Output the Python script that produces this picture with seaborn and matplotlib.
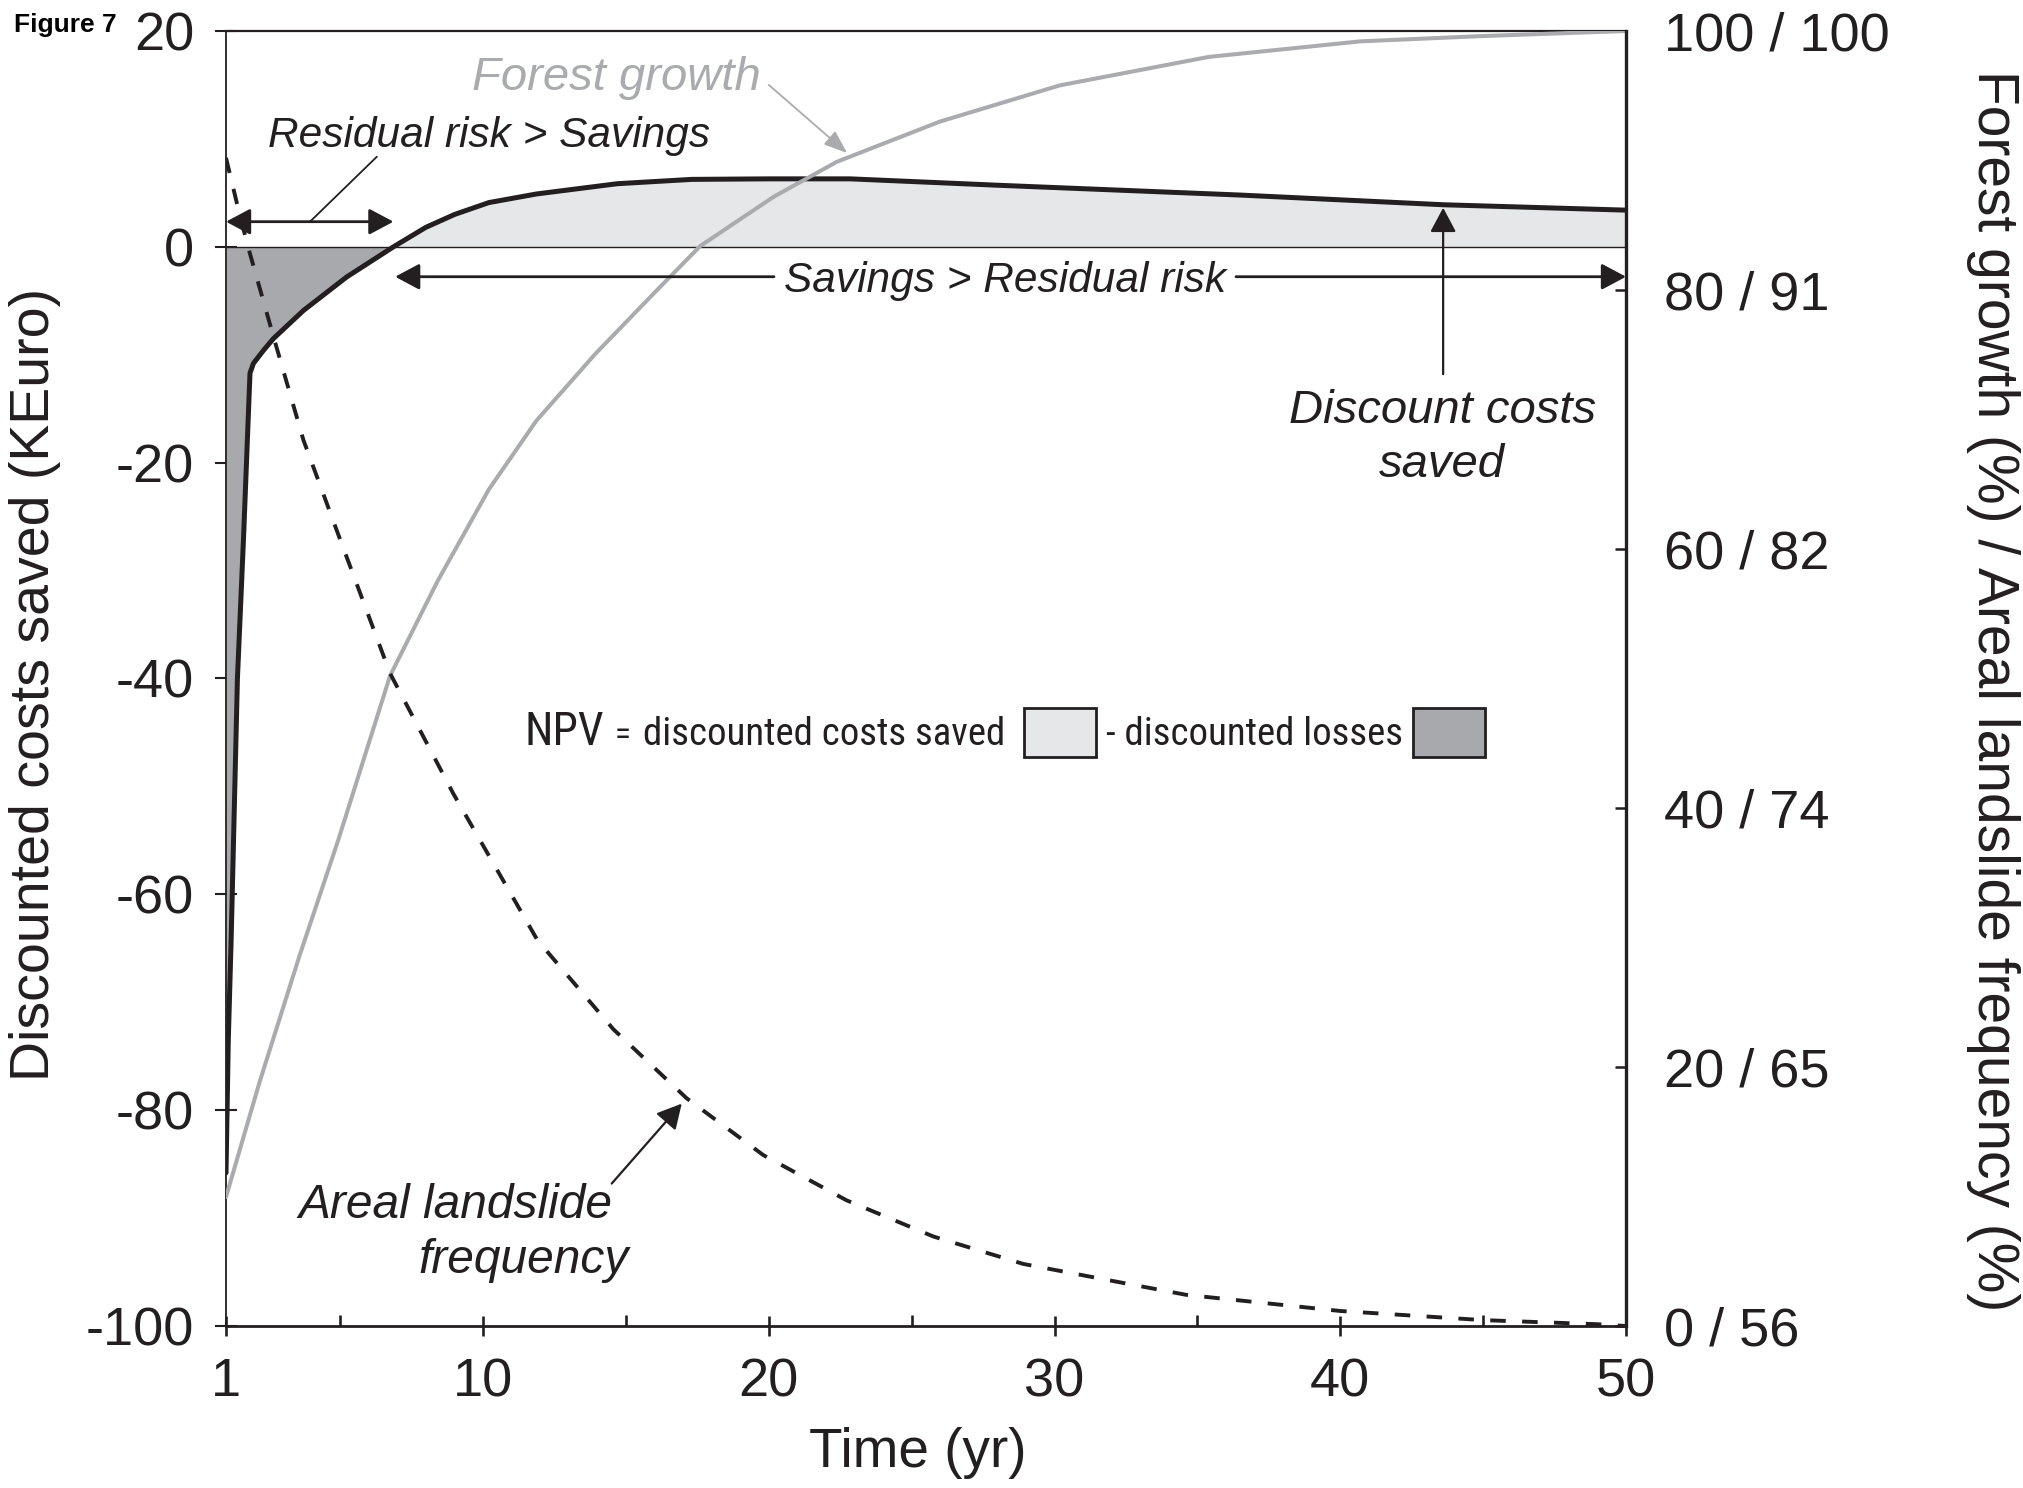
import numpy as np
import pandas as pd
import matplotlib
matplotlib.use("Agg")
import matplotlib.pyplot as plt
from matplotlib import font_manager as fm
from matplotlib.patches import Rectangle
import seaborn as sns

# ---------------- data ----------------
time_cost = [1, 1.08, 1.18, 1.40, 1.61, 1.84, 1.96, 2.31, 2.66, 3.71, 5.22, 6.86,
             7.99, 9.0, 10.2, 11.87, 14.7, 17.3, 20.0, 22.84, 28.08, 36.48, 43.6, 50]
cost_saved = [-85.8, -73.5, -64.2, -40.0, -27.2, -11.7, -10.8, -9.6, -8.5, -5.9, -2.8, 0.0,
              1.8, 3.0, 4.1, 4.9, 5.85, 6.25, 6.3, 6.3, 5.7, 4.8, 3.9, 3.4]

time_growth = [1, 2.17, 3.56, 4.94, 6.74, 8.40, 10.2, 11.86, 13.94, 16.0, 17.6, 20.17,
               22.38, 25.98, 30.18, 35.4, 40.7, 44.87, 50]
forest_growth = [9.96, 18.8, 28.5, 37.6, 50.2, 57.5, 64.6, 69.9, 75.1, 79.8, 83.4, 87.2,
                 89.9, 93.0, 95.8, 98.0, 99.2, 99.6, 100]

time_freq = [1, 1.49, 1.84, 2.66, 3.71, 4.9, 6.74, 8.96, 11.9, 14.56, 17.12, 19.8,
             22.72, 25.76, 28.9, 32.2, 34.6, 40.0, 45.0, 49.0, 50]
landslide_freq = [95.69, 93.71, 92.43, 89.62, 86.10, 82.97, 78.18, 74.08, 69.11, 66.08, 63.74, 61.81,
                  60.27, 59.04, 58.11, 57.50, 57.06, 56.51, 56.20, 56.06, 56.00]

x_ticks = [1, 10, 20, 30, 40, 50]
x_minor_ticks = [5, 15, 25, 35, 45]
left_ticks = [20, 0, -20, -40, -60, -80, -100]
growth_ticks = [0, 20, 40, 60, 80, 100]
freq_ticks = [56, 65, 74, 82, 91, 100]

# ---------------- style ----------------
sns.set_theme(style="ticks")
avail = {f.name for f in fm.fontManager.ttflist}
BASE = "Liberation Sans" if "Liberation Sans" in avail else "DejaVu Sans"
NARROW = next((n for n in ["Liberation Sans Narrow", "Roboto Condensed",
                           "Open Sans Condensed", "DejaVu Sans Condensed"] if n in avail), None)
plt.rcParams["font.family"] = [BASE, "DejaVu Sans"]
plt.rcParams["axes.unicode_minus"] = False

INK = "#231f20"
LIGHT = "#e6e7e8"
DARK = "#a7a9ac"
GRAY = "#a9abae"

fig = plt.figure(figsize=(20.23, 14.88), dpi=100)
ax = fig.add_axes([226 / 2023, 1 - 1326 / 1488, 1400 / 2023, 1295 / 1488])
ax.set_facecolor("white")
ax2 = ax.twinx()
ax3 = ax.twinx()

df_cost = pd.DataFrame({"t": time_cost, "cost": cost_saved})
df_growth = pd.DataFrame({"t": time_growth, "growth": forest_growth})
df_freq = pd.DataFrame({"t": time_freq, "freq": landslide_freq})

cs = np.array(cost_saved)
ax.fill_between(time_cost, cs, 0, where=cs >= 0, interpolate=True, color=LIGHT, lw=0, zorder=1)
ax.fill_between(time_cost, cs, 0, where=cs <= 0, interpolate=True, color=DARK, lw=0, zorder=1)
ax.axhline(0, color=INK, lw=1.0, zorder=2)
sns.lineplot(data=df_cost, x="t", y="cost", ax=ax, color=INK, lw=3.6,
             estimator=None, sort=False, legend=False, zorder=3)

sns.lineplot(data=df_growth, x="t", y="growth", ax=ax2, color=GRAY, lw=2.9,
             estimator=None, sort=False, legend=False)
sns.lineplot(data=df_freq, x="t", y="freq", ax=ax3, color=INK, lw=2.8,
             estimator=None, sort=False, legend=False)
ax3.get_lines()[-1].set_dashes((4.0, 4.2))

# ---------------- axes ----------------
ax.set_xlim(1, 50)
ax.set_ylim(-100, 20)
ax2.set_ylim(0, 100)
ax3.set_ylim(56, 100)
ax3.set_axis_off()

ax.set_xticks(x_ticks)
ax.set_xticks(x_minor_ticks, minor=True)
ax.set_yticks(left_ticks)
ax2.set_yticks(growth_ticks, labels=[f"{g} / {f}" for g, f in zip(growth_ticks, freq_ticks)])

ax.tick_params(axis="x", which="major", direction="inout", length=14.9, width=1.9,
               pad=15, labelsize=39, colors=INK)
ax.tick_params(axis="x", which="minor", direction="in", length=7.7, width=1.9, colors=INK)
ax.tick_params(axis="y", which="major", direction="inout", length=16, width=1.5,
               pad=15, labelsize=39, colors=INK)
ax2.tick_params(axis="y", which="major", direction="in", length=8, width=1.8,
                pad=27, labelsize=39, colors=INK)

for name, sp in ax.spines.items():
    sp.set_color(INK)
ax.spines["left"].set_linewidth(1.3)
ax.spines["bottom"].set_linewidth(2.0)
ax.spines["top"].set_linewidth(1.6)
ax.spines["right"].set_visible(False)
for name in ["left", "top", "bottom"]:
    ax2.spines[name].set_visible(False)
ax2.spines["right"].set_linewidth(2.4)
ax2.spines["right"].set_color(INK)

ax.set_xlabel("Time (yr)", fontsize=39.5, color=INK, va="center", ha="center")
ax.xaxis.set_label_coords(0.494, -0.098)
ax.set_ylabel("Discounted costs saved (KEuro)", fontsize=40, color=INK, va="center", ha="center")
ax.yaxis.set_label_coords(-0.1364, 0.4958)
ax2.set_ylabel("Forest growth (%) / Areal landslide frequency (%)", fontsize=41, color=INK,
               rotation=270, va="center", ha="center")
ax2.yaxis.set_label_coords(1.262, 0.491)

# ---------------- annotations ----------------
T = ax.transData


def arrow(start, tip, style="-|>", lw=2.0, color=INK, hl=0.75, hw=0.4, ms=20):
    if style == "-":
        st = "-"
    else:
        st = f"{style},head_length={hl},head_width={hw}"
    ax3.annotate("", xy=tip, xytext=start, xycoords=T, textcoords=T, annotation_clip=False,
                 arrowprops=dict(arrowstyle=st, lw=lw, color=color, shrinkA=0, shrinkB=0,
                                 mutation_scale=ms))


def label(x, y, s, size, color=INK, style="italic", ha="center"):
    ax3.text(x, y, s, transform=T, fontsize=size, color=color, style=style,
             ha=ha, va="baseline", clip_on=False)


# Forest growth
label(14.65, 14.53, "Forest growth", 34, color=GRAY)
arrow((20.0, 15.0), (22.74, 8.69), lw=1.3, color=GRAY, hl=0.8, hw=0.3, ms=18)

# Residual risk > Savings
label(10.19, 9.28, "Residual risk > Savings", 30.5)
arrow((6.28, 8.35), (3.94, 2.33), style="-", lw=1.3)
arrow((1.0, 2.33), (6.86, 2.33), style="<|-|>", lw=2.0)

# Savings > Residual risk
label(28.27, -4.16, "Savings > Residual risk", 30.5)
arrow((20.18, -2.77), (6.92, -2.77), lw=2.0)
arrow((36.35, -2.77), (50.0, -2.77), lw=2.0)

# Discount costs saved
label(43.57, -16.33, "Discount costs", 34)
label(43.57, -21.33, "saved", 34)
arrow((43.6, -11.8), (43.6, 3.62), lw=1.6)

# Areal landslide frequency
label(9.03, -90.0, "Areal landslide", 34.5)
label(11.40, -95.1, "frequency", 34.5)
arrow((14.5, -86.8), (16.95, -79.4), lw=1.6)

# NPV legend line
if NARROW:
    fam, s_npv, s_txt, s_eq = NARROW, 33, 28, 24
else:
    fam, s_npv, s_txt, s_eq = BASE, 27, 25, 21
yb = 0.4486
A = ax3.transAxes
ax3.text(0.2129, yb, "NPV", transform=A, fontsize=s_npv, family=fam, color=INK, va="baseline", ha="left")
ax3.text(0.2779, yb, "=", transform=A, fontsize=s_eq, family=fam, color=INK, va="baseline", ha="left")
ax3.text(0.2979, yb, "discounted costs saved", transform=A, fontsize=s_txt, family=fam,
         color=INK, va="baseline", ha="left")
ax3.text(0.6286, yb, "- discounted losses", transform=A, fontsize=s_txt, family=fam,
         color=INK, va="baseline", ha="left")
ax3.add_patch(Rectangle((0.5700, 0.4394), 0.0514, 0.0378, transform=A, fc=LIGHT, ec=INK,
                        lw=2.0, clip_on=False))
ax3.add_patch(Rectangle((0.8479, 0.4394), 0.0514, 0.0378, transform=A, fc=DARK, ec=INK,
                        lw=2.0, clip_on=False))

fig.text(14 / 2023, 1 - 31.7 / 1488, "Figure 7", fontsize=19, fontweight="bold",
         color="black", ha="left", va="baseline")

fig.savefig("out.png", dpi=100, facecolor="white")
